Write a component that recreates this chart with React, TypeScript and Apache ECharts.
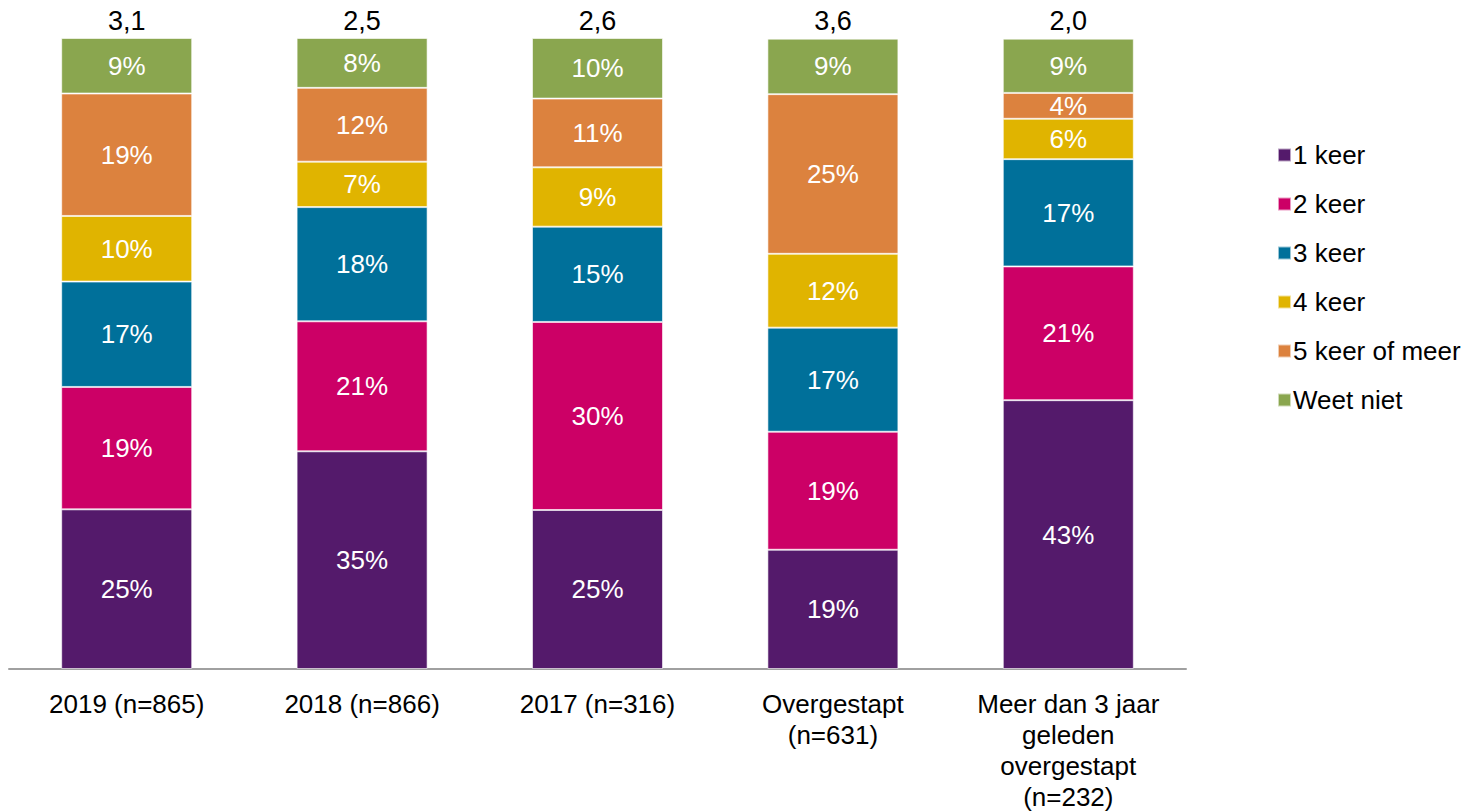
import React, { useEffect, useRef } from "react";
import * as echarts from "echarts";

const categories = [
  "2019 (n=865)",
  "2018 (n=866)",
  "2017 (n=316)",
  "Overgestapt\n(n=631)",
  "Meer dan 3 jaar\ngeleden\novergestapt\n(n=232)",
];
const averages = ["3,1", "2,5", "2,6", "3,6", "2,0"];
const totals = [100, 100, 100, 100, 100];

const seriesNames = ["1 keer", "2 keer", "3 keer", "4 keer", "5 keer of meer", "Weet niet"];
const keer1 = [25.3, 34.5, 25.2, 18.9, 42.6];
const keer2 = [19.4, 20.6, 29.8, 18.7, 21.2];
const keer3 = [16.7, 18.1, 15.1, 16.5, 17.0];
const keer4 = [10.4, 7.2, 9.4, 11.7, 6.4];
const keer5plus = [19.4, 11.7, 10.9, 25.3, 4.1];
const weetNiet = [8.8, 7.9, 9.6, 8.8, 8.6];
const seriesValues = [keer1, keer2, keer3, keer4, keer5plus, weetNiet];
const colors = ["#541a6b", "#cc0066", "#00709a", "#e0b400", "#dc823e", "#8aa64f"];

const FONT = "'Liberation Sans', Arial, sans-serif";
const FS = 26;

export default function App() {
  const ref = useRef<HTMLDivElement>(null);
  useEffect(() => {
    if (!ref.current) return;
    const chart = echarts.init(ref.current, undefined, { renderer: "svg" });
    const series: any[] = seriesValues.map((vals, i) => ({
      name: seriesNames[i],
      type: "bar",
      stack: "total",
      barWidth: 131,
      barGap: "-100%",
      data: vals,
      itemStyle: { color: colors[i], borderColor: "rgba(255,255,255,0.6)", borderWidth: 1 },
      label: {
        show: true,
        position: "inside",
        color: "#ffffff",
        fontSize: FS,
        fontFamily: FONT,
        formatter: (p: any) => Math.round(p.value) + "%",
      },
    }));
    series.push({
      name: "gemiddelde",
      type: "bar",
      barWidth: 131,
      barGap: "-100%",
      data: totals,
      silent: true,
      z: 1,
      itemStyle: { color: "rgba(0,0,0,0)" },
      label: {
        show: true,
        position: "top",
        distance: 4,
        color: "#000000",
        fontSize: 27,
        fontFamily: FONT,
        formatter: (p: any) => averages[p.dataIndex],
      },
    });
    chart.setOption({
      animation: false,
      textStyle: { fontFamily: FONT },
      legend: {
        data: seriesNames.map((n) => ({ name: n, icon: "rect" })),
        orient: "vertical",
        left: 1272,
        top: 137,
        itemWidth: 13,
        itemHeight: 13,
        itemGap: 23,
        textStyle: { fontSize: FS, color: "#000", fontFamily: FONT, padding: [0, 0, 0, -3] },
      },
      grid: { left: 9, right: 284, top: 38, bottom: 139, containLabel: false },
      xAxis: {
        type: "category",
        data: categories,
        axisLine: { lineStyle: { color: "#a0a0a0", width: 2 } },
        axisTick: { show: false },
        axisLabel: {
          color: "#000",
          fontSize: FS,
          fontFamily: FONT,
          lineHeight: 31,
          margin: 19,
          interval: 0,
          align: "center",
        },
      },
      yAxis: {
        type: "value",
        min: 0,
        max: 100,
        show: false,
        splitLine: { show: false },
      },
      series,
    });
    return () => chart.dispose();
  }, []);
  return (
    <div
      ref={ref}
      style={{ position: "fixed", left: 0, top: 0, width: 1470, height: 812, background: "#fff" }}
    />
  );
}
